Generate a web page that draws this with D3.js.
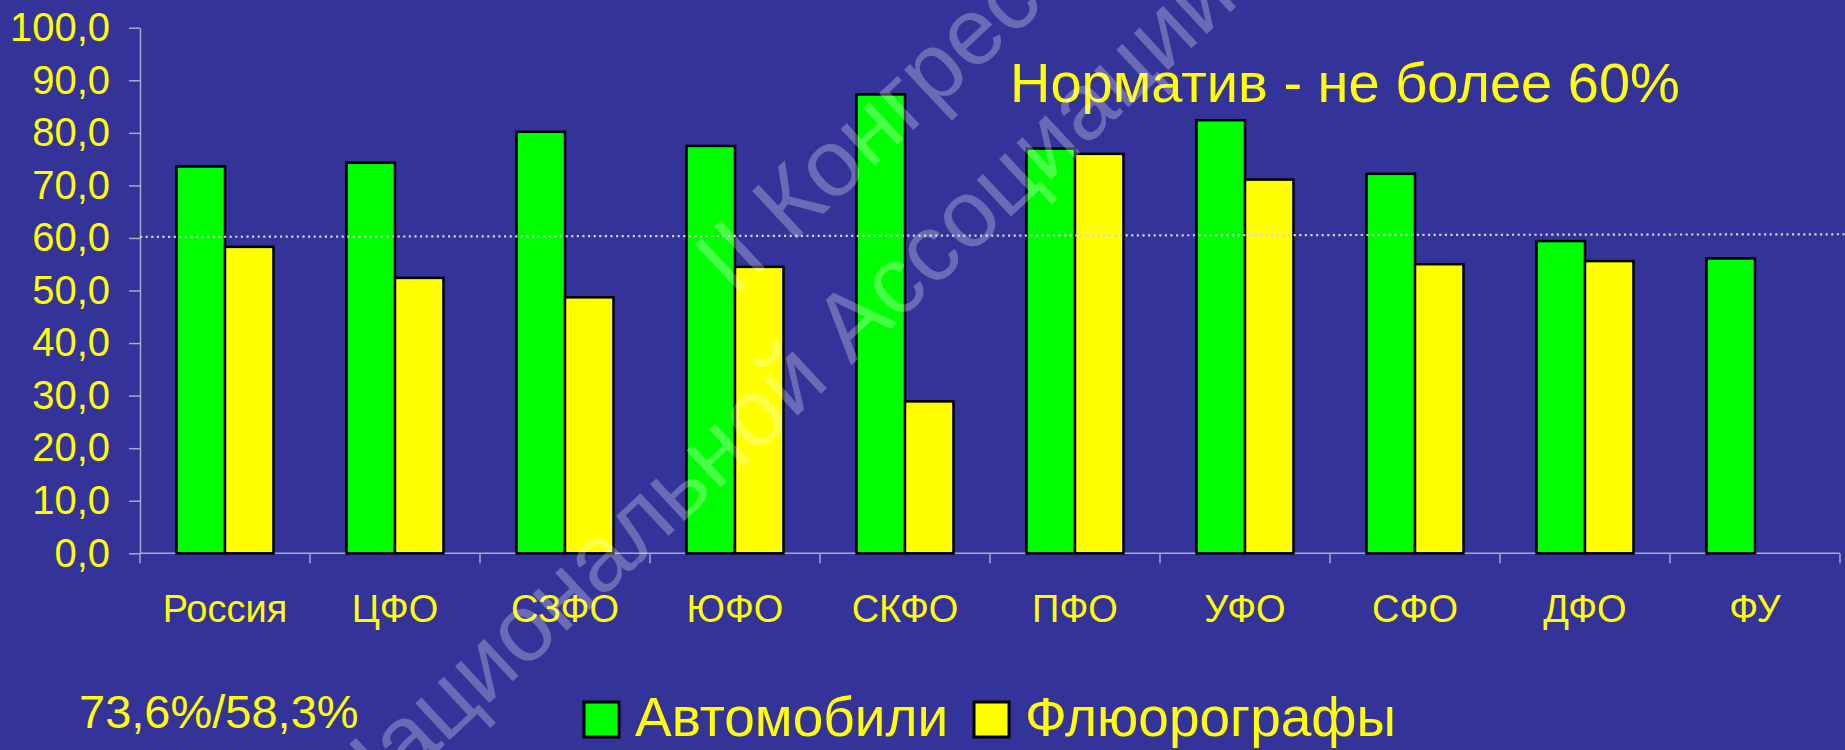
<!DOCTYPE html>
<html>
<head>
<meta charset="utf-8">
<script src="https://cdn.jsdelivr.net/npm/d3@7"></script>
<style>
  html, body { margin: 0; padding: 0; background: #333399; overflow: hidden; }
  svg { display: block; }
  text { font-family: "Liberation Sans", Arial, sans-serif; }
</style>
</head>
<body>
<div id="chart"></div>
<script>
// Data
const regions = ["Россия", "ЦФО", "СЗФО", "ЮФО", "СКФО", "ПФО", "УФО", "СФО", "ДФО", "ФУ"];
const cars = [73.6, 74.3, 80.2, 77.5, 87.3, 77.0, 82.4, 72.2, 59.4, 56.1];
const fluoro = [58.3, 52.4, 48.7, 54.5, 28.9, 76.0, 71.1, 55.0, 55.6, null];
const seriesNames = ["Автомобили", "Флюорографы"];
const seriesColors = ["#00ff00", "#ffff00"];
const yTicks = [0, 10, 20, 30, 40, 50, 60, 70, 80, 90, 100];
const normLine = [60.2, 60.7]; // dotted line, left end / right end
const normLabel = "Норматив - не более 60%";
const summaryLabel = "73,6%/58,3%";
const watermark = ["II Конгресс", "Национальной Ассоциации"];

const W = 1845, H = 750;
const bg = "#333399", yellow = "#ffff00", axisCol = "#a9a9c9";

const svg = d3.select("#chart")
  .append("svg")
  .attr("width", W)
  .attr("height", H);

svg.append("rect").attr("width", W).attr("height", H).attr("fill", bg);

// Scales
const x0 = d3.scaleBand()
  .domain(regions)
  .range([140, 1840])
  .paddingInner(0.43)
  .paddingOuter(0.215);

const x1 = d3.scaleBand()
  .domain([0, 1])
  .range([0, x0.bandwidth()]);

const y = d3.scaleLinear()
  .domain([0, 100])
  .range([553.3, 27.7]);

const ru = d3.formatLocale({ decimal: ",", thousands: " ", grouping: [3], currency: ["", ""] });
const fmt = ru.format(".1f");

// Y axis
const yAxis = svg.append("g")
  .attr("transform", "translate(140,0)")
  .call(d3.axisLeft(y).tickValues(yTicks).tickSize(11).tickSizeOuter(0).tickPadding(19).tickFormat(fmt));
yAxis.select(".domain").attr("stroke", axisCol).attr("stroke-width", 1.5);
yAxis.selectAll(".tick line").attr("stroke", axisCol).attr("stroke-width", 1.5);
yAxis.selectAll(".tick text")
  .attr("fill", yellow)
  .style("font-size", "40px");

// X axis line + boundary ticks
const step = x0.step();
const bounds = regions.map(d => x0(d) + x0.bandwidth() / 2 - step / 2);
bounds.push(bounds[bounds.length - 1] + step);

svg.append("line")
  .attr("x1", bounds[0]).attr("x2", bounds[bounds.length - 1])
  .attr("y1", y(0)).attr("y2", y(0))
  .attr("stroke", axisCol).attr("stroke-width", 1.5);

svg.selectAll(".xtick")
  .data(bounds)
  .enter()
  .append("line")
  .attr("class", "xtick")
  .attr("x1", d => d).attr("x2", d => d)
  .attr("y1", y(0)).attr("y2", y(0) + 10)
  .attr("stroke", axisCol).attr("stroke-width", 1.5);

svg.selectAll(".xlabel")
  .data(regions)
  .enter()
  .append("text")
  .attr("class", "xlabel")
  .attr("x", d => x0(d) + x0.bandwidth() / 2)
  .attr("y", 622)
  .attr("text-anchor", "middle")
  .attr("fill", yellow)
  .style("font-size", "38px")
  .text(d => d);

// Bars
const rows = regions.map((r, i) => ({ region: r, values: [cars[i], fluoro[i]] }));

const groups = svg.selectAll(".grp")
  .data(rows)
  .enter()
  .append("g")
  .attr("class", "grp")
  .attr("transform", d => `translate(${x0(d.region)},0)`);

groups.selectAll("rect")
  .data(d => d.values.map((v, k) => ({ v, k })).filter(e => e.v != null))
  .enter()
  .append("rect")
  .attr("x", d => x1(d.k))
  .attr("y", d => y(d.v))
  .attr("width", x1.bandwidth())
  .attr("height", d => y(0) - y(d.v))
  .attr("fill", d => seriesColors[d.k])
  .attr("stroke", "#000")
  .attr("stroke-width", 2.5);

// Norm line (dotted)
svg.append("line")
  .attr("x1", 140).attr("x2", W)
  .attr("y1", y(normLine[0])).attr("y2", y(normLine[1]))
  .attr("stroke", "#d4d4dc")
  .attr("stroke-width", 2.2)
  .attr("stroke-dasharray", "2.2,3.4");

svg.append("text")
  .attr("x", 1010)
  .attr("y", 102)
  .attr("fill", yellow)
  .style("font-size", "56px")
  .text(normLabel);

svg.append("text")
  .attr("x", 79)
  .attr("y", 728)
  .attr("fill", yellow)
  .style("font-size", "47px")
  .text(summaryLabel);

// Legend
const legend = svg.append("g").attr("transform", "translate(584,702)");
const legX = [0, 390];
seriesNames.forEach((name, k) => {
  const g = legend.append("g").attr("transform", `translate(${legX[k]},0)`);
  g.append("rect")
    .attr("width", 35).attr("height", 35)
    .attr("fill", seriesColors[k])
    .attr("stroke", "#000").attr("stroke-width", 3);
  g.append("text")
    .attr("x", 51).attr("y", 34)
    .attr("fill", yellow)
    .style("font-size", "55px")
    .text(name);
});

// Watermark (semi-transparent, rotated)
const wm = svg.append("g")
  .attr("transform", "translate(733,298) rotate(-43)")
  .attr("fill", "#ffffff")
  .attr("fill-opacity", 0.28)
  .style("font-size", "95px");
wm.append("text").attr("x", 0).attr("y", 0).text(watermark[0]);

// second line: place so that its last word starts slightly ahead of line one
const line2 = wm.append("text").attr("y", 130).text(watermark[1]);
const tail = wm.append("text").text(watermark[1].split(" ").pop());
const headW = line2.node().getComputedTextLength() - tail.node().getComputedTextLength();
tail.remove();
line2.attr("x", 40 - headW);
</script>
</body>
</html>
